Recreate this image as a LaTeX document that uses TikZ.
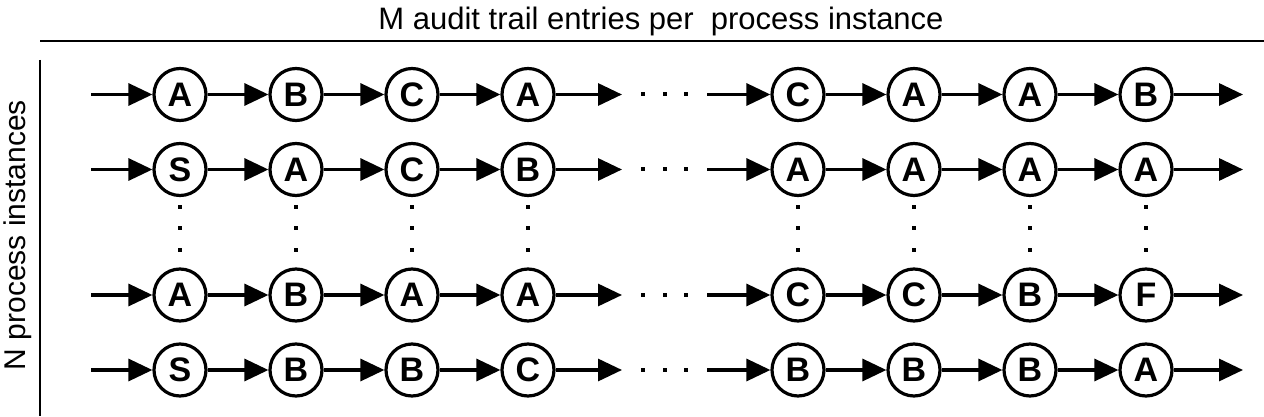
\documentclass[tikz,border=0pt]{standalone}
\usepackage{fontspec}
\setmainfont{Liberation Sans}
\usetikzlibrary{arrows.meta}
\begin{document}
\begin{tikzpicture}[x=1pt,y=-1pt,
  ev/.style={circle,draw,line width=3.2pt,minimum size=52pt,inner sep=0pt,
    font=\fontsize{34}{34}\selectfont\bfseries},
  conn/.style={line width=3.2pt,-{Triangle[length=24pt,width=22pt]}},
  vdot/.style={fill=black}]
\useasboundingbox (0,0) rectangle (1264,417);
% title and axes
\node[font=\fontsize{31}{31}\selectfont] (title) at (661,21) {M audit trail entries per\ \ process instance};
\coordinate (hl) at (40,41);
\coordinate (hr) at (1264,41);
\draw[line width=1.5pt] (hl) -- (hr);
\coordinate (vt) at (40,60);
\coordinate (vb) at (40,416);
\draw[line width=1.5pt] (vt) -- (vb);
\node[font=\fontsize{30}{30}\selectfont,rotate=90] (ylab) at (18,235) {N process instances};
% rows
\def\xs{180,296,412,528,798,914,1030,1146}
\foreach \r/\y/\la/\lb/\lc/\ld/\le/\lf/\lg/\lh in {
  1/94.5/A/B/C/A/C/A/A/B,
  2/169.5/S/A/C/B/A/A/A/A,
  3/295/A/B/A/A/C/C/B/F,
  4/370/S/B/B/C/B/B/B/A}{
  \node[ev] (n\r-1) at (180,\y) {\la};
  \node[ev] (n\r-2) at (296,\y) {\lb};
  \node[ev] (n\r-3) at (412,\y) {\lc};
  \node[ev] (n\r-4) at (528,\y) {\ld};
  \node[ev] (n\r-5) at (798,\y) {\le};
  \node[ev] (n\r-6) at (914,\y) {\lf};
  \node[ev] (n\r-7) at (1030,\y) {\lg};
  \node[ev] (n\r-8) at (1146,\y) {\lh};
  \coordinate (s\r) at (91,\y);
  \coordinate (m\r a) at (622,\y);
  \coordinate (m\r b) at (707,\y);
  \coordinate (e\r) at (1243,\y);
  \draw[conn] (s\r) -- (n\r-1);
  \draw[conn] (n\r-1) -- (n\r-2);
  \draw[conn] (n\r-2) -- (n\r-3);
  \draw[conn] (n\r-3) -- (n\r-4);
  \draw[conn] (n\r-4) -- (m\r a);
  \draw[conn] (m\r b) -- (n\r-5);
  \draw[conn] (n\r-5) -- (n\r-6);
  \draw[conn] (n\r-6) -- (n\r-7);
  \draw[conn] (n\r-7) -- (n\r-8);
  \draw[conn] (n\r-8) -- (e\r);
  \foreach \dx in {643,665,686}{
    \fill[vdot] (\dx-2,\y-2) rectangle ++(4,4);
  }
}
% vertical dots
\foreach \x in \xs{
  \foreach \dy in {207,228,250}{
    \fill[vdot] (\x-2,\dy-2) rectangle ++(4,4);
  }
}
\end{tikzpicture}
\end{document}
